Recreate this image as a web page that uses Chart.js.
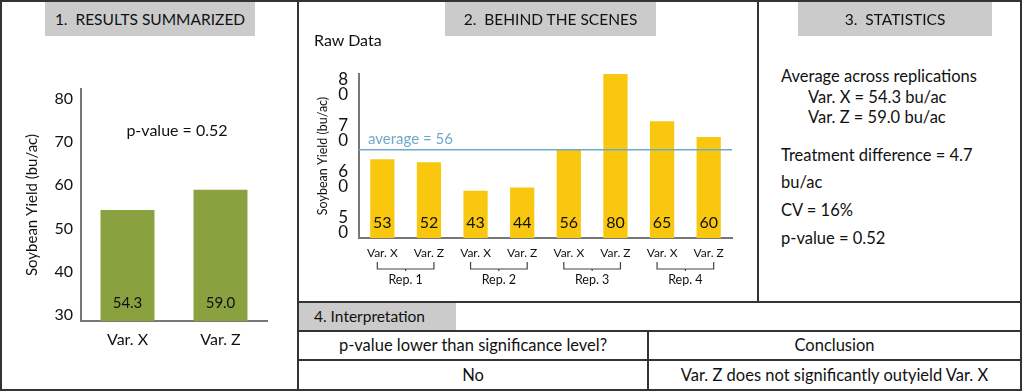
<!DOCTYPE html>
<html>
<head>
<meta charset="utf-8">
<script src="https://cdn.jsdelivr.net/npm/chart.js@4/dist/chart.umd.min.js"></script>
<style>
  body { margin: 0; background: #fff; font-family: Lato, "Open Sans", sans-serif; color: #111; }
  #page { position: relative; width: 1024px; height: 392px; overflow: hidden; }
  .ln { position: absolute; background: #333; }
  .head { position: absolute; background: #cbcbcb; font-size: 15.5px; line-height: 36px; text-align: center; white-space: pre; z-index: 2; }
  .txt { position: absolute; font-size: 16px; line-height: 20px; white-space: pre; z-index: 2; }
  .big { font-size: 16.5px; }
  .ctr { text-align: center; }
  canvas { position: absolute; z-index: 1; }
</style>
</head>
<body>
<div id="page">
  <canvas id="summary" width="298" height="392" style="left:0;top:0"></canvas>
  <canvas id="raw" width="460" height="300" style="left:298px;top:0"></canvas>

  <!-- frame and panel dividers -->
  <div class="ln" style="left:0;top:0;width:1022px;height:2px"></div>
  <div class="ln" style="left:0;top:389px;width:1022px;height:2px"></div>
  <div class="ln" style="left:0;top:0;width:2px;height:391px"></div>
  <div class="ln" style="left:1020px;top:0;width:2px;height:391px"></div>
  <div class="ln" style="left:297px;top:0;width:2px;height:391px"></div>
  <div class="ln" style="left:757px;top:0;width:2px;height:303px"></div>
  <div class="ln" style="left:297px;top:301px;width:725px;height:2px"></div>
  <div class="ln" style="left:297px;top:330px;width:725px;height:1.5px"></div>
  <div class="ln" style="left:297px;top:359px;width:725px;height:1.5px"></div>
  <div class="ln" style="left:647px;top:330px;width:2px;height:61px"></div>

  <!-- headers -->
  <div class="head" style="left:45px;top:2px;width:210px;height:34px;line-height:34px">1.  RESULTS SUMMARIZED</div>
  <div class="head" style="left:445px;top:2px;width:211px;height:34px;line-height:34px">2.  BEHIND THE SCENES</div>
  <div class="head" style="left:798px;top:2px;width:194px;height:34px;line-height:34px">3.  STATISTICS</div>
  <div class="head" style="left:299px;top:303px;width:157px;height:27px;line-height:27px;text-align:left;padding-left:15px;box-sizing:border-box">4. Interpretation</div>

  <!-- panel 1 -->
  <div class="txt ctr" style="left:124px;top:120px;width:106px">p-value = 0.52</div>

  <!-- panel 2 -->
  <div class="txt" style="left:314px;top:30px">Raw Data</div>

  <!-- panel 3 -->
  <div class="txt big" style="left:781px;top:66px">Average across replications</div>
  <div class="txt big" style="left:808px;top:87px">Var. X = 54.3 bu/ac</div>
  <div class="txt big" style="left:808px;top:107px">Var. Z = 59.0 bu/ac</div>
  <div class="txt big" style="left:781px;top:145px">Treatment difference = 4.7</div>
  <div class="txt big" style="left:781px;top:172px">bu/ac</div>
  <div class="txt big" style="left:781px;top:200px">CV = 16%</div>
  <div class="txt big" style="left:781px;top:228px">p-value = 0.52</div>

  <!-- panel 4 -->
  <div class="txt big ctr" style="left:299px;top:335px;width:348px">p-value lower than significance level?</div>
  <div class="txt big ctr" style="left:649px;top:335px;width:371px">Conclusion</div>
  <div class="txt big ctr" style="left:299px;top:365px;width:348px">No</div>
  <div class="txt big ctr" style="left:649px;top:365px;width:371px">Var. Z does not significantly outyield Var. X</div>
</div>

<script>
// averages across reps
const summaryLabels = ['Var. X', 'Var. Z'];
const summaryMeans = [54.3, 59.0];
const summaryTicks = [30, 40, 50, 60, 70, 80];

// raw plot yields, two varieties per rep
const rawLabels = ['Var. X', 'Var. Z', 'Var. X', 'Var. Z', 'Var. X', 'Var. Z', 'Var. X', 'Var. Z'];
const rawYields = [53, 52, 43, 44, 56, 80, 65, 60];
const repLabels = ['Rep. 1', 'Rep. 2', 'Rep. 3', 'Rep. 4'];
const rawTicks = [50, 60, 70, 80];
const averageYield = 56;

const greenBar = '#8aa13f';
const yellowBar = '#f9c80e';
const axisGray = '#777';
const ink = '#111';

// numbers written inside the bars, near the base
const barValues = {
  id: 'barValues',
  afterDatasetsDraw(chart, args, opts) {
    const ctx = chart.ctx;
    const bottom = chart.chartArea.bottom;
    const ds = chart.data.datasets[0];
    ctx.save();
    ctx.font = opts.size + 'px Lato';
    ctx.fillStyle = ink;
    ctx.textAlign = 'center';
    ctx.textBaseline = 'middle';
    chart.getDatasetMeta(0).data.forEach((bar, i) => {
      ctx.fillText(ds.data[i].toFixed(opts.decimals), bar.x, bottom - opts.offset);
    });
    ctx.restore();
  }
};

// horizontal average line with its label
const averageLine = {
  id: 'averageLine',
  afterDatasetsDraw(chart) {
    const ctx = chart.ctx;
    const area = chart.chartArea;
    const y = chart.scales.y.getPixelForValue(averageYield);
    ctx.save();
    ctx.strokeStyle = '#6fa9cb';
    ctx.lineWidth = 1.5;
    ctx.beginPath();
    ctx.moveTo(area.left, y);
    ctx.lineTo(area.right, y);
    ctx.stroke();
    ctx.fillStyle = '#6fa9cb';
    ctx.font = '15px Lato';
    ctx.textBaseline = 'middle';
    ctx.fillText('average = ' + averageYield, area.left + 9, y - 11);
    ctx.restore();
  }
};

// brackets grouping each pair of bars into a rep
const repBrackets = {
  id: 'repBrackets',
  afterDraw(chart) {
    const ctx = chart.ctx;
    const xs = chart.scales.x;
    const top = xs.top;
    ctx.save();
    ctx.strokeStyle = '#444';
    ctx.lineWidth = 1.2;
    ctx.fillStyle = ink;
    ctx.font = '12.5px Lato';
    ctx.textAlign = 'center';
    ctx.textBaseline = 'middle';
    repLabels.forEach((rep, i) => {
      const a = xs.getPixelForValue(i * 2) - 5;
      const b = xs.getPixelForValue(i * 2 + 1) + 5;
      const m = (a + b) / 2;
      ctx.beginPath();
      ctx.moveTo(a, top + 24);
      ctx.lineTo(a, top + 31);
      ctx.lineTo(b, top + 31);
      ctx.lineTo(b, top + 24);
      ctx.moveTo(m, top + 31);
      ctx.lineTo(m, top + 33);
      ctx.stroke();
      ctx.fillText(rep, m, top + 42);
    });
    ctx.restore();
  }
};

new Chart(document.getElementById('summary'), {
  type: 'bar',
  data: {
    labels: summaryLabels,
    datasets: [{ data: summaryMeans, backgroundColor: greenBar, barPercentage: 0.58, categoryPercentage: 1 }]
  },
  plugins: [barValues],
  options: {
    responsive: false,
    animation: false,
    layout: { padding: { left: 0, top: 89, right: 31, bottom: 0 } },
    plugins: {
      legend: { display: false },
      tooltip: { enabled: false },
      barValues: { size: 15, decimals: 1, offset: 18 }
    },
    scales: {
      x: {
        grid: { display: false, drawTicks: false },
        border: { color: axisGray, width: 2 },
        ticks: { color: ink, font: { family: 'Lato', size: 16 }, padding: 9 },
        afterFit(s) { s.height = 71; }
      },
      y: {
        min: 28.6,
        max: 82.3,
        afterBuildTicks(s) { s.ticks = summaryTicks.map(v => ({ value: v })); },
        grid: { display: false, drawTicks: false },
        border: { color: axisGray, width: 2 },
        ticks: { color: ink, font: { family: 'Lato', size: 16 }, padding: 8 },
        title: {
          display: true,
          text: 'Soybean Yield (bu/ac)',
          color: ink,
          font: { family: 'Lato', size: 15 },
          padding: { top: 23, bottom: 0 }
        },
        afterFit(s) { s.width = 81; }
      }
    }
  }
});

new Chart(document.getElementById('raw'), {
  type: 'bar',
  data: {
    labels: rawLabels,
    datasets: [{ data: rawYields, yAxisID: 'y', backgroundColor: yellowBar, barPercentage: 0.52, categoryPercentage: 1 }]
  },
  plugins: [barValues, averageLine, repBrackets],
  options: {
    responsive: false,
    animation: false,
    layout: { padding: { left: 0, top: 74, right: 26, bottom: 0 } },
    plugins: {
      legend: { display: false },
      tooltip: { enabled: false },
      barValues: { size: 16, decimals: 0, offset: 15 }
    },
    scales: {
      x: {
        grid: { display: false, drawTicks: false },
        border: { color: axisGray, width: 2 },
        ticks: { color: ink, font: { family: 'Lato', size: 12 }, padding: 8, maxRotation: 0, autoSkip: false },
        afterFit(s) { s.height = 62; }
      },
      y: { display: false, min: 28, max: 80 },
      // tick labels in the original sit on their own spacing, digits stacked
      yTicks: {
        type: 'linear',
        axis: 'y',
        position: 'left',
        min: 47.17,
        max: 82.83,
        afterBuildTicks(s) { s.ticks = rawTicks.map(v => ({ value: v })); },
        grid: { display: false, drawTicks: false },
        border: { color: axisGray, width: 2 },
        ticks: {
          color: ink,
          font: { family: 'Lato', size: 17, lineHeight: 0.88 },
          padding: 11,
          callback: v => String(v).split('')
        },
        title: {
          display: true,
          text: 'Soybean Yield (bu/ac)',
          color: ink,
          font: { family: 'Lato', size: 12.5 },
          padding: { top: 17, bottom: 0 }
        },
        afterFit(s) { s.width = 61; }
      }
    }
  }
});
</script>
</body>
</html>
